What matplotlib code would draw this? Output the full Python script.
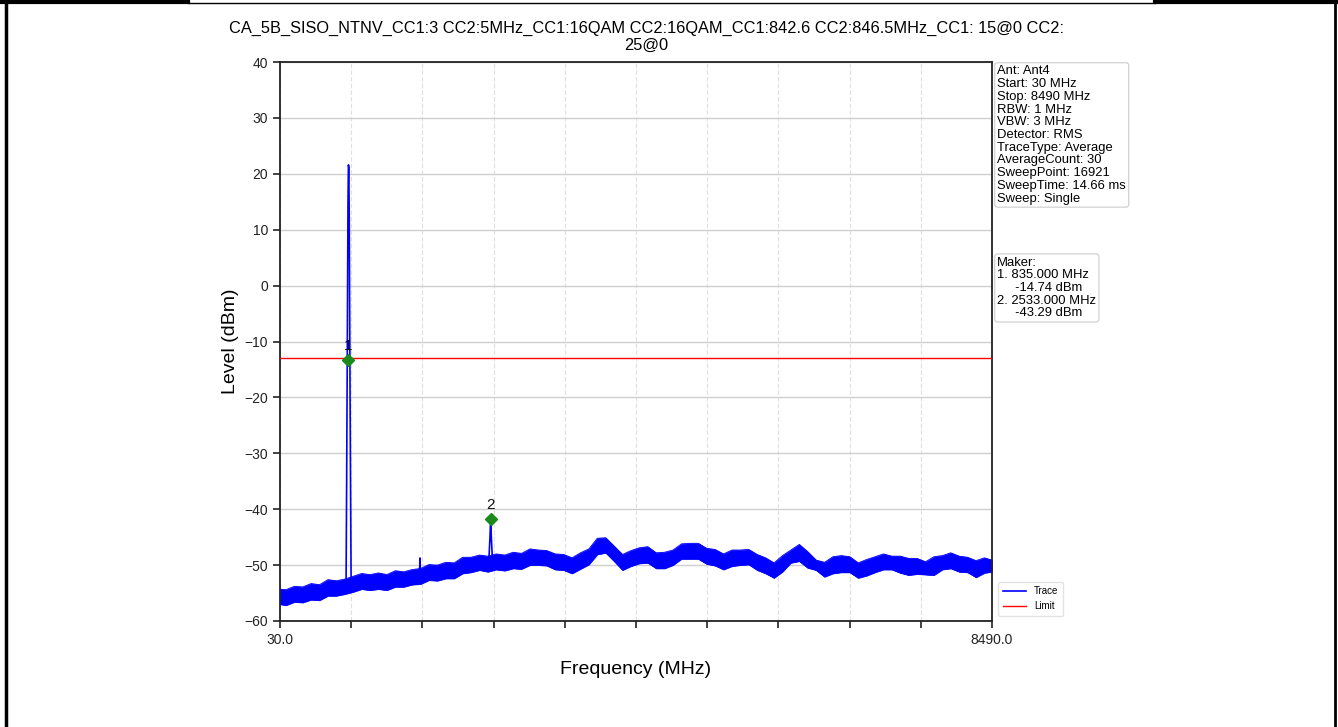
import matplotlib
matplotlib.use("Agg")
import matplotlib.pyplot as plt
from matplotlib.lines import Line2D
import numpy as np

plt.rcParams['font.family'] = ['Liberation Sans', 'DejaVu Sans']

# ---------------- data ----------------
title = ("CA_5B_SISO_NTNV_CC1:3 CC2:5MHz_CC1:16QAM CC2:16QAM_CC1:842.6 "
         "CC2:846.5MHz_CC1: 15@0 CC2:\n25@0")

start_mhz = 30.0
stop_mhz = 8490.0

# noise-floor envelope of the trace (MHz, dBm)
env_freq = [30] + list(range(100, 8500, 100)) + [8490]
env_upper = [-54.3, -54.4, -53.8, -53.9, -53.3, -53.5, -52.6, -52.8, -52.5, -52.0,
             -51.5, -51.7, -51.4, -51.7, -51.0, -51.2, -50.8, -50.6, -49.9, -50.0,
             -49.5, -49.6, -48.6, -48.6, -48.2, -48.4, -48.0, -48.2, -47.7, -47.9,
             -47.1, -47.3, -47.4, -48.0, -48.1, -48.7, -47.8, -47.1, -45.2, -45.1,
             -46.6, -48.1, -47.4, -46.9, -46.7, -47.8, -47.7, -47.3, -46.2, -46.1,
             -46.1, -47.0, -47.2, -48.0, -47.3, -47.3, -47.2, -48.1, -48.7, -49.6,
             -48.3, -47.3, -46.3, -47.6, -49.1, -49.5, -48.5, -48.3, -48.5, -49.6,
             -49.0, -48.5, -48.0, -48.4, -48.4, -48.8, -48.8, -49.4, -48.5, -48.3,
             -47.8, -48.4, -48.6, -49.2, -48.7, -49.1]
env_lower = [-57.0, -57.2, -56.6, -56.7, -56.2, -56.3, -55.5, -55.5, -55.2, -54.8,
             -54.3, -54.5, -54.3, -54.5, -53.9, -53.9, -53.5, -53.4, -52.7, -52.8,
             -52.4, -52.4, -51.5, -51.3, -50.9, -51.2, -50.8, -51.0, -50.6, -50.7,
             -50.0, -50.0, -50.1, -50.8, -50.9, -51.5, -50.7, -49.9, -48.1, -47.8,
             -49.3, -50.9, -50.2, -49.7, -49.6, -50.6, -50.6, -50.0, -48.9, -48.9,
             -48.9, -49.8, -50.1, -50.8, -50.2, -50.0, -49.9, -50.9, -51.5, -52.3,
             -51.2, -49.6, -49.3, -50.5, -50.9, -52.1, -51.5, -51.3, -51.3, -52.3,
             -51.9, -51.3, -50.8, -50.8, -51.4, -51.8, -51.6, -51.7, -51.8, -50.8,
             -50.6, -51.2, -51.3, -52.2, -51.4, -51.2]

# spikes of the trace (MHz, dBm)
carrier_freq = [800, 815, 822, 830, 838, 843, 848, 853, 860, 868, 875, 900]
carrier_level = [-53.9, -53.5, -35.0, -10.0, 15.0, 21.6, 21.2, 12.0, -12.0, -35.0, -53.3, -53.2]
spur1_freq = [1680, 1690, 1693, 1697, 1710]
spur1_level = [-51.8, -50.0, -48.7, -50.5, -51.8]
spur2_freq = [2510, 2525, 2533, 2541, 2556]
spur2_level = [-49.6, -45.0, -41.7, -45.0, -49.6]

limit_level = -13.0

marker_ids = ["1", "2"]
marker_freq = [835.0, 2533.0]
marker_level = [-13.3, -41.7]

y_ticks = [-60, -50, -40, -30, -20, -10, 0, 10, 20, 30, 40]

info_text = ("Ant: Ant4\nStart: 30 MHz\nStop: 8490 MHz\nRBW: 1 MHz\nVBW: 3 MHz\n"
             "Detector: RMS\nTraceType: Average\nAverageCount: 30\n"
             "SweepPoint: 16921\nSweepTime: 14.66 ms\nSweep: Single")
marker_text = ("Maker:\n1. 835.000 MHz\n     -14.74 dBm\n2. 2533.000 MHz\n"
               "     -43.29 dBm")

# ---------------- figure ----------------
W, H = 1338, 727
fig = plt.figure(figsize=(W / 100, H / 100), dpi=100)
ax = fig.add_axes([280 / W, 1 - 621 / H, (992 - 280) / W, (621 - 62) / H])

blue = '#0000ff'
ax.fill_between(env_freq, env_lower, env_upper, color=blue, linewidth=0.5, zorder=2)
ax.plot(env_freq, env_upper, color=blue, lw=0.6, zorder=2)
ax.plot(env_freq, env_lower, color=blue, lw=0.6, zorder=2)
trace_line, = ax.plot(carrier_freq, carrier_level, color=blue, lw=1.2, zorder=3, label='Trace')
ax.plot(spur1_freq, spur1_level, color=blue, lw=1.0, zorder=3)
ax.plot(spur2_freq, spur2_level, color=blue, lw=1.2, zorder=3)

limit_line = ax.axhline(limit_level, color='#ff0000', lw=1.0, zorder=4, label='Limit')

ax.plot(marker_freq, marker_level, linestyle='none', marker='D', markersize=6,
        color='#1a8a1a', zorder=5)
for mid, mf, ml in zip(marker_ids, marker_freq, marker_level):
    ax.annotate(mid, (mf, ml), xytext=(0, 5), textcoords='offset points',
                ha='center', va='bottom', fontsize=11, color='#111111', zorder=6)

ax.set_xlim(start_mhz, stop_mhz)
ax.set_ylim(-60, 40)
xt = np.linspace(start_mhz, stop_mhz, 11)
ax.set_xticks(xt)
ax.set_xticklabels([f"{start_mhz:.1f}"] + [""] * 9 + [f"{stop_mhz:.1f}"])
ax.set_yticks(y_ticks)
ax.set_yticklabels([str(v).replace('-', '\u2212') for v in y_ticks])
ax.tick_params(labelsize=10, length=5, width=1.2, colors='#222222')
ax.yaxis.grid(True, color='#cfcfcf', linewidth=1.0, linestyle='-')
ax.xaxis.grid(True, color='#e0e0e0', linewidth=0.8, linestyle=(0, (4, 2)))
ax.set_axisbelow(True)
for s in ax.spines.values():
    s.set_linewidth(1.3)
    s.set_color('#222222')

ax.set_xlabel("Frequency (MHz)", fontsize=14, labelpad=10)
ax.set_ylabel("Level (dBm)", fontsize=14, labelpad=4)
ax.set_title(title, fontsize=11.8, pad=9, x=0.515, linespacing=1.14)

box = dict(boxstyle='round,pad=0.2', facecolor='white', edgecolor='#cccccc', linewidth=0.8)
ax.text(1.0075, 0.994, info_text, transform=ax.transAxes, fontsize=9.4, va='top',
        ha='left', linespacing=1.08, bbox=box)
ax.text(1.0075, 0.652, marker_text, transform=ax.transAxes, fontsize=9.4, va='top',
        ha='left', linespacing=1.08, bbox=box)

ax.legend(handles=[trace_line, limit_line], loc='lower left', bbox_to_anchor=(1.002, 0.0),
          fontsize=7, frameon=True, handlelength=2.4, borderpad=0.5,
          edgecolor='#dddddd', fancybox=True)

# page frame lines
fig.add_artist(Line2D([6 / W, 6 / W], [0, 1], transform=fig.transFigure, color='black', lw=2.5))
fig.add_artist(Line2D([1335 / W, 1335 / W], [0, 1], transform=fig.transFigure, color='black', lw=2.0))
fig.add_artist(Line2D([0, 188 / W], [1 - 2 / H, 1 - 2 / H], transform=fig.transFigure, color='black', lw=3))
fig.add_artist(Line2D([188 / W, 1155 / W], [1 - 3 / H, 1 - 3 / H], transform=fig.transFigure, color='black', lw=1))
fig.add_artist(Line2D([1155 / W, 1], [1 - 2 / H, 1 - 2 / H], transform=fig.transFigure, color='black', lw=3))

fig.savefig("out.png", dpi=100)
